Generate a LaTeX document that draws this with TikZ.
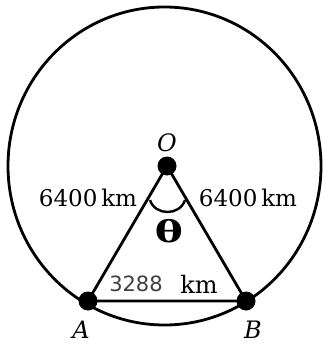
\documentclass[tikz,border=0pt]{standalone}
\usepackage{fontspec}
\usepackage{graphicx}
\setmainfont{DejaVu Serif}
\newfontfamily\sansf{DejaVu Sans}
\tikzset{
  ln/.style={line width=2.8pt, line cap=round},
  dotnode/.style={circle, fill=black, inner sep=0pt, minimum size=19pt},
  lbl/.style={inner sep=0pt, font=\fontsize{23}{23}\selectfont},
  pt/.style={inner sep=0pt, font=\fontsize{24}{24}\selectfont\itshape},
}
\begin{document}
\begin{tikzpicture}[x=1pt,y=-1pt]
\useasboundingbox (0,0) rectangle (323,345);
\coordinate (C) at (164.5,166);
\draw[ln] (C) ellipse [x radius=156.5, y radius=159];
\node[dotnode] (O) at (167,166) {};
\node[dotnode] (A) at (88,301) {};
\node[dotnode] (B) at (246,301) {};
\draw[ln] (O.center) -- (A.center) -- (B.center) -- cycle;
% angle arc
\coordinate (a1) at (150,200);
\coordinate (a2) at (185,200);
\draw[line width=2.4pt] (a1) .. controls (155,216) and (180,216) .. (a2);
\node[pt] (lO) at (167,143) {O};
\node[pt] (lA) at (81,330) {A};
\node[pt] (lB) at (253,330) {B};
\node[lbl] (l1) at (88,198) {6400\,km};
\node[lbl] (l2) at (248,198) {6400\,km};
\node[inner sep=0pt, font=\fontsize{30}{30}\selectfont\bfseries] (th) at (169,231) {\scalebox{1.4}[1]{θ}};
\node[inner sep=0pt, text=black!75, font=\sansf\fontsize{21}{21}\selectfont] (n1) at (136,284) {3288};
\node[inner sep=0pt, font=\fontsize{24}{24}\selectfont] (n2) at (199,284) {km};
\end{tikzpicture}
\end{document}
